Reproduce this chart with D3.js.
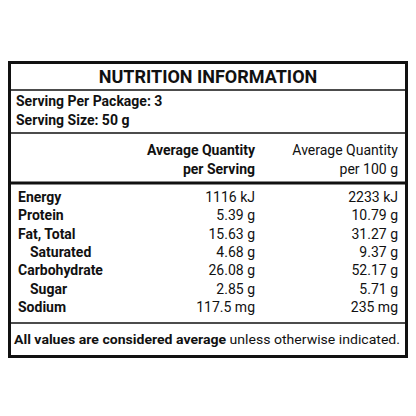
<!DOCTYPE html><html><head><script src="https://cdn.jsdelivr.net/npm/d3@7"></script>
<style>body{margin:0;background:#fff}text{font-family:Roboto,"DejaVu Sans",sans-serif;fill:#111}</style></head><body>
<svg id="c" width="416" height="416"></svg>
<script>
const nutrients=["Energy","Protein","Fat, Total","Saturated","Carbohydrate","Sugar","Sodium"];
const indent=[0,0,0,1,0,1,0];
const perServing=["1116 kJ","5.39 g","15.63 g","4.68 g","26.08 g","2.85 g","117.5 mg"];
const per100g=["2233 kJ","10.79 g","31.27 g","9.37 g","52.17 g","5.71 g","235 mg"];
const svg=d3.select("#c");
const y=d3.scaleBand().domain(d3.range(nutrients.length)).range([188,316]);
svg.append("rect").attr("x",9.5).attr("y",62.5).attr("width",397).attr("height",294).attr("fill","none").attr("stroke","#111").attr("stroke-width",3);
const line=(yy,w)=>svg.append("line").attr("x1",9).attr("x2",407).attr("y1",yy).attr("y2",yy).attr("stroke","#111").attr("stroke-width",w);
line(90,1.5);line(133,1.5);line(183,3);line(323,1.5);
const t=(x,yy,s,o={})=>svg.append("text").attr("x",x).attr("y",yy).text(s).attr("font-size",o.fs||14).attr("font-weight",o.b?"bold":"normal").attr("text-anchor",o.a||"start");
t(208,83,"NUTRITION INFORMATION",{fs:18,b:1,a:"middle"});
t(16,106,"Serving Per Package: 3",{b:1});
t(16,125,"Serving Size: 50 g",{b:1});
t(255,155,"Average Quantity",{b:1,a:"end"});
t(255,174,"per Serving",{b:1,a:"end"});
t(398,155,"Average Quantity",{a:"end"});
t(398,174,"per 100 g",{a:"end"});
nutrients.forEach((n,i)=>{
  const yy=y(i)+y.bandwidth()/2+5;
  t(indent[i]?30:18,yy,n,{b:1});
  t(255,yy,perServing[i],{a:"end"});
  t(398,yy,per100g[i],{a:"end"});
});
const f=svg.append("text").attr("x",14).attr("y",344).attr("font-size",13).attr("textLength",386).attr("lengthAdjust","spacingAndGlyphs");
f.append("tspan").attr("font-weight","bold").text("All values are considered average ");
f.append("tspan").text("unless otherwise indicated.");
</script></body></html>
